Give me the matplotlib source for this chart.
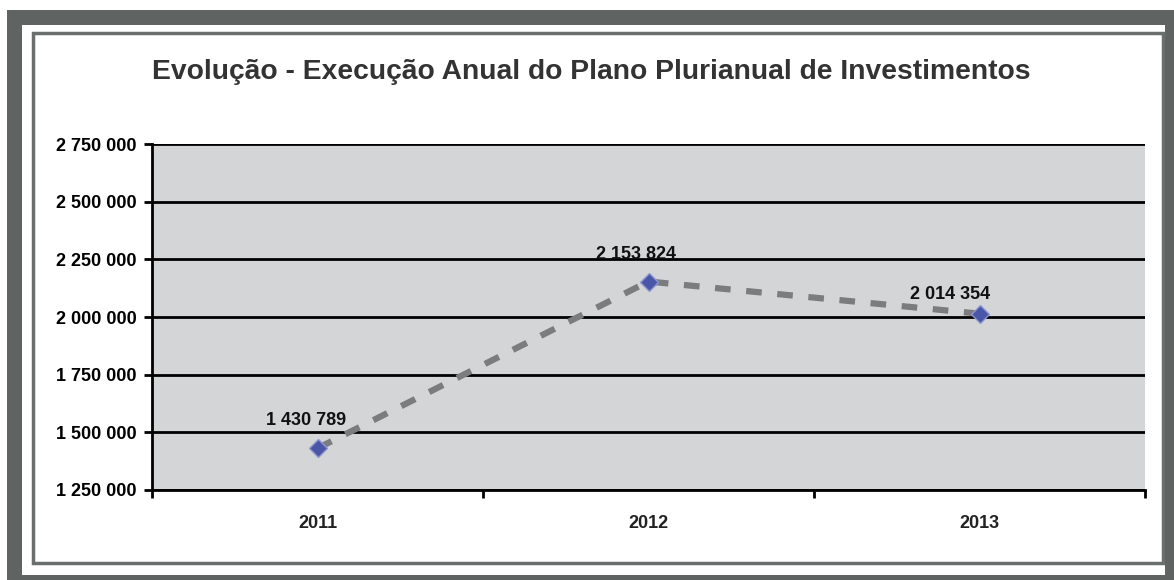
import matplotlib.pyplot as plt
from matplotlib.patches import Rectangle

anos = ['2011', '2012', '2013']
execucao = [1430789, 2153824, 2014354]
rotulos = ['1 430 789', '2 153 824', '2 014 354']
y_ticks = [1250000, 1500000, 1750000, 2000000, 2250000, 2500000, 2750000]

W, H = 1174, 580
fig = plt.figure(figsize=(W / 100, H / 100), dpi=100)
fig.patch.set_facecolor('white')
plt.rcParams['font.family'] = 'Liberation Sans'


def px_rect(x0, y0, x1, y1, **kw):
    # rectangle given in pixel coords (y from top)
    return Rectangle((x0 / W, 1 - y1 / H), (x1 - x0) / W, (y1 - y0) / H,
                     transform=fig.transFigure, zorder=-10, **kw)


# scanned-page frame
fig.add_artist(px_rect(7, 10, 1174, 580, facecolor='#5f6463', edgecolor='none'))
fig.add_artist(px_rect(22, 25, 1165, 575, facecolor='white', edgecolor='none'))
fig.add_artist(px_rect(33, 33, 1163, 563, fill=False, edgecolor='#6a6e6d', linewidth=2.5))

ax = fig.add_axes([152 / W, (H - 490) / H, (1145 - 152) / W, (490 - 144) / H])
ax.set_facecolor('#d3d5d7')

x = list(range(len(anos)))
ax.plot(x, execucao, linestyle=(0, (2.5, 2.5)), color='#7a7c7e', linewidth=4.5, zorder=3)
ax.plot(x, execucao, linestyle='none', marker='D', markersize=9,
        markerfacecolor='#4a57a8', markeredgecolor='#8c96d0', zorder=4)

offsets = [(-8, 20), (-9, 19.5), (-21, 14)]
for xi, yi, txt, (dx, dy) in zip(x, execucao, rotulos, offsets):
    ax.annotate(txt, (xi, yi), xytext=(dx, dy), textcoords='offset points',
                ha='center', va='center', fontsize=13, fontweight='bold',
                color='#111111', zorder=5)

ax.set_xlim(-0.5, 2.5)
ax.set_ylim(1250000, 2750000)
ax.set_yticks(y_ticks)
ax.set_yticklabels([f'{v:,}'.replace(',', ' ') for v in y_ticks],
                   fontsize=13, fontweight='bold')
ax.set_xticks(x)
ax.set_xticklabels(anos, fontsize=13, fontweight='bold', color='#222222')
ax.set_xticks([-0.5, 0.5, 1.5, 2.5], minor=True)
ax.tick_params(axis='x', which='major', length=0, pad=18)
ax.tick_params(axis='x', which='minor', length=6, width=2, direction='out')
ax.tick_params(axis='y', length=6, width=2, pad=5, direction='out')

ax.grid(axis='y', color='black', linewidth=2)
ax.set_axisbelow(True)
for side in ['top', 'right']:
    ax.spines[side].set_visible(False)
for side in ['left', 'bottom']:
    ax.spines[side].set_linewidth(2)

fig.text(591 / W, (H - 72) / H, 'Evolução - Execução Anual do Plano Plurianual de Investimentos',
         ha='center', va='center', fontsize=20.3, fontweight='bold', color='#333333')

fig.savefig('out.png', dpi=100)
